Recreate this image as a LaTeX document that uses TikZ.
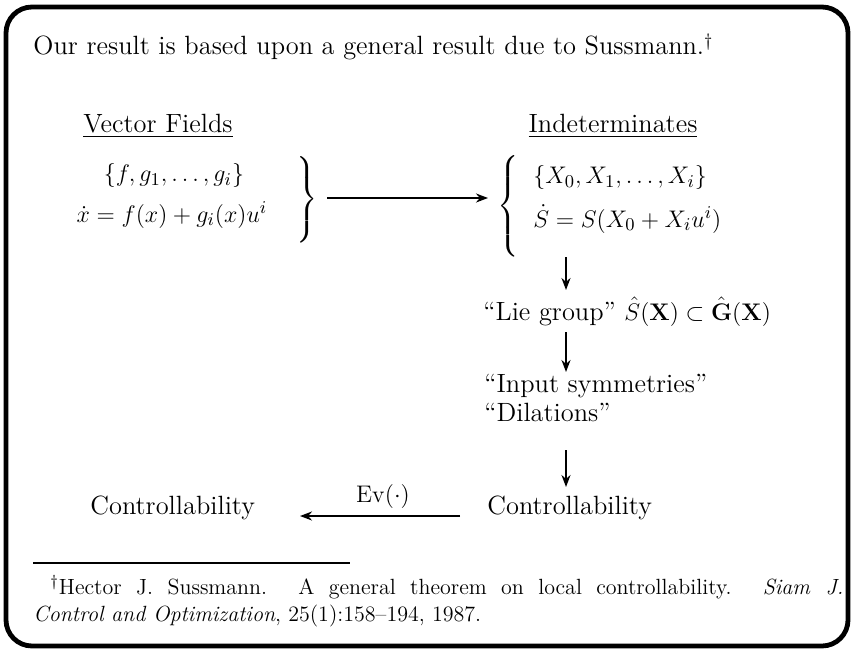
\documentclass[tikz,border=0pt]{standalone}
\usepackage{amsmath}
\usetikzlibrary{arrows.meta}
\begin{document}
\begin{tikzpicture}[x=0.5pt,y=-0.5pt,
  every node/.style={inner sep=0pt, font=\fontsize{13.2}{16}\selectfont},
  arr/.style={line width=1pt,-{Stealth[length=6pt,width=4.5pt]}},
  fn/.style={font=\fontsize{11}{13.6}\selectfont}]
\useasboundingbox (0,0) rectangle (854,652);
\draw[line width=2.4pt, rounded corners=13pt] (6,7) rectangle (848,646);

\node[anchor=base west] (title) at (33,55) {Our result is based upon a general result due to Sussmann.$^\dagger$};
\node[anchor=base] (vf) at (158,133) {\underline{Vector Fields}};
\node[anchor=base] (ind) at (613,133) {\underline{Indeterminates}};

\node[anchor=base] (vf1) at (174,182) {$\{f, g_1, \ldots, g_i\}$};
\node[anchor=base] (vf2) at (172,222) {$\dot x = f(x) + g_i(x)u^i$};
\node (rb) at (306,201) {$\left.\rule[-20pt]{0pt}{40pt}\right\}$};

\node (lb) at (509,207) {$\left\{\rule[-23pt]{0pt}{46pt}\right.$};
\node[anchor=base west] (in1) at (533,184) {$\{X_0, X_1, \ldots, X_i\}$};
\node[anchor=base west] (in2) at (533,227) {$\dot S = S(X_0 + X_i u^i)$};

\coordinate (h1) at (327,198);
\coordinate (h2) at (488,198);
\draw[arr] (h1) -- (h2);

\node[anchor=base west] (lie) at (483,320) {``Lie group'' $\hat S(\mathbf X) \subset \hat{\mathbf G}(\mathbf X)$};
\node[anchor=base west] (inp) at (484,392) {``Input symmetries''};
\node[anchor=base west] (dil) at (484,421) {``Dilations''};
\node[anchor=base west] (cr) at (487,514) {Controllability};
\node[anchor=base west] (cl) at (90,514) {Controllability};

\coordinate (v1a) at (566,257); \coordinate (v1b) at (566,290);
\coordinate (v2a) at (566,332); \coordinate (v2b) at (566,372);
\coordinate (v3a) at (566,450); \coordinate (v3b) at (566,487);
\draw[arr] (v1a) -- (v1b);
\draw[arr] (v2a) -- (v2b);
\draw[arr] (v3a) -- (v3b);

\coordinate (e1) at (460,516);
\coordinate (e2) at (300,516);
\draw[arr] (e1) -- (e2);
\node[anchor=base] (ev) at (383,502) {$\mathrm{Ev}(\cdot)$};

\draw[line width=0.9pt] (33,563) -- (350,563);
\node[fn, anchor=north west, text width=405pt, align=justify] (foot) at (33,575)
 {\hspace*{8.5pt}$^\dagger$Hector J. Sussmann. A general theorem on local controllability. \textit{Siam J.}\linebreak \textit{Control and Optimization}, 25(1):158--194, 1987.};
\end{tikzpicture}
\end{document}
